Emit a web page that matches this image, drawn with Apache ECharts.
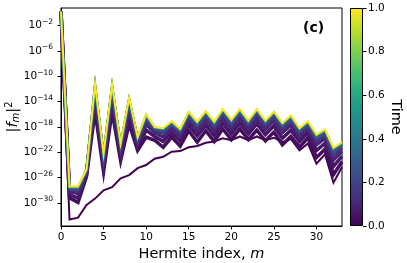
<!DOCTYPE html>
<html><head><meta charset="utf-8">
<script src="https://cdn.jsdelivr.net/npm/echarts@6/dist/echarts.min.js"></script>
<style>html,body{margin:0;padding:0;background:#fff}#c{width:407px;height:263px}</style>
</head><body><div id="c"></div>
<script>
// ---- data (log10 of |f_m|^2) ----
const hermiteIndex = [0,1,2,3,4,5,6,7,8,9,10,11,12,13,14,15,16,17,18,19,20,21,22,23,24,25,26,27,28,29,30,31,32,33];
const timeSnapshots = [0, 0.03, 0.06, 0.1, 0.15, 0.22, 0.35, 0.6, 1.0];
const logF2_t000 = [0.2,-32.6,-32.3,-30.3,-29.3,-28.0,-27.5,-26.1,-25.6,-24.5,-24.0,-23.0,-22.7,-21.9,-21.8,-21.2,-21.0,-20.5,-20.3,-19.8,-20.1,-19.5,-20.1,-19.5,-20.1,-19.7,-20.4,-19.9,-21.7,-20.6,-23.8,-22.3,-26.8,-24.3];
const logF2_t003 = [0.2,-29.2,-29.9,-25.8,-15.5,-25.1,-15.5,-23.3,-17.5,-21.7,-19.6,-20.1,-21.2,-19.6,-21.0,-18.6,-20.4,-18.6,-20.3,-18.3,-20.0,-18.3,-20.0,-18.5,-20.2,-18.8,-20.8,-19.5,-21.2,-19.7,-22.8,-21.5,-25.5,-23.5];
const logF2_t006 = [0.2,-28.7,-29.2,-25.5,-14.2,-24.2,-14.2,-22.5,-16.3,-21.1,-18.5,-19.5,-20.3,-18.9,-20.2,-17.7,-19.4,-17.7,-19.4,-17.4,-19.1,-17.4,-19.1,-17.5,-19.2,-17.8,-19.8,-18.5,-20.3,-18.9,-21.7,-20.6,-24.2,-22.6];
const logF2_t010 = [0.2,-28.2,-28.5,-25.2,-13.1,-23.5,-13.2,-21.8,-15.2,-20.5,-17.6,-18.9,-19.6,-18.2,-19.5,-17.0,-18.6,-16.9,-18.6,-16.6,-18.3,-16.6,-18.4,-16.7,-18.4,-17.0,-18.9,-17.7,-19.6,-18.3,-20.8,-19.8,-23.2,-21.8];
const logF2_t015 = [0.2,-27.9,-28.1,-25.0,-12.4,-23.0,-12.5,-21.4,-14.5,-20.2,-17.0,-18.6,-19.0,-17.8,-19.1,-16.4,-18.1,-16.4,-18.1,-16.1,-17.8,-16.1,-17.8,-16.1,-17.9,-16.5,-18.4,-17.1,-19.0,-17.8,-20.2,-19.3,-22.5,-21.3];
const logF2_t022 = [0.2,-27.7,-27.8,-24.9,-11.9,-22.7,-12.0,-21.0,-14.1,-19.9,-16.6,-18.3,-18.7,-17.5,-18.7,-16.1,-17.7,-16.0,-17.7,-15.7,-17.4,-15.7,-17.5,-15.7,-17.5,-16.1,-17.9,-16.7,-18.7,-17.5,-19.8,-18.9,-22.0,-20.9];
const logF2_t035 = [0.2,-27.5,-27.6,-24.8,-11.5,-22.4,-11.6,-20.8,-13.7,-19.7,-16.3,-18.1,-18.4,-17.3,-18.5,-15.8,-17.4,-15.7,-17.4,-15.4,-17.1,-15.4,-17.2,-15.4,-17.2,-15.8,-17.6,-16.4,-18.4,-17.3,-19.5,-18.6,-21.6,-20.6];
const logF2_t060 = [0.2,-27.5,-27.5,-24.7,-11.3,-22.3,-11.4,-20.7,-13.5,-19.7,-16.1,-18.1,-18.3,-17.2,-18.4,-15.7,-17.3,-15.6,-17.3,-15.3,-17.0,-15.3,-17.1,-15.3,-17.1,-15.7,-17.5,-16.3,-18.3,-17.2,-19.3,-18.5,-21.4,-20.5];
const logF2_t100 = [0.2,-27.4,-27.4,-24.7,-11.2,-22.2,-11.3,-20.6,-13.4,-19.6,-16.0,-18.0,-18.2,-17.1,-18.3,-15.6,-17.2,-15.5,-17.2,-15.2,-16.9,-15.2,-17.0,-15.2,-17.0,-15.6,-17.4,-16.2,-18.2,-17.1,-19.2,-18.4,-21.3,-20.4];
const xTicks = [0,5,10,15,20,25,30];
const yTickExponents = [-30,-26,-22,-18,-14,-10,-6,-2];
const colorbarTicks = [0,0.2,0.4,0.6,0.8,1.0];

const allLogF2 = [logF2_t000,logF2_t003,logF2_t006,logF2_t010,logF2_t015,logF2_t022,logF2_t035,logF2_t060,logF2_t100];

// ---- styling ----
const FONT = 'DejaVu Sans';
const viridis = ['#440154','#482475','#414487','#355f8d','#2a788e','#21918c','#22a884','#44bf70','#7ad151','#bddf26','#fde725'];
function hex2rgb(h){return [parseInt(h.slice(1,3),16),parseInt(h.slice(3,5),16),parseInt(h.slice(5,7),16)];}
function viridisAt(t){
  const p = Math.max(0,Math.min(1,t))*10; const i = Math.min(9,Math.floor(p)); const f = p-i;
  const a = hex2rgb(viridis[i]), b = hex2rgb(viridis[i+1]);
  const c = a.map((v,k)=>Math.round(v+(b[k]-v)*f));
  return 'rgb('+c.join(',')+')';
}
const lineWidths = [2, 3.5, 3.5, 3.5, 3, 3, 2.5, 2, 2];

const chart = echarts.init(document.getElementById('c'), null, {renderer:'canvas', width:407, height:263});

const lineSeries = timeSnapshots.map((t,i)=>({
  type:'line', xAxisIndex:0, yAxisIndex:0,
  data: hermiteIndex.map((m,j)=>[m, allLogF2[i][j]]),
  symbol:'none', showSymbol:false, silent:true, animation:false,
  lineStyle:{color:viridisAt(t), width:lineWidths[i], join:'miter'},
  itemStyle:{color:viridisAt(t)}
}));

const supFmt = v => '{b|10}{s|' + (v<0?'\u2212':'') + Math.abs(v) + '}';

chart.setOption({
  animation:false,
  backgroundColor:'#fff',
  grid:[
    {left:61, top:8, width:281, height:218, show:true, borderColor:'#000', borderWidth:1, backgroundColor:'transparent', outerBoundsMode:'none', containLabel:false},
    {left:350, top:8, width:13, height:218, show:false, outerBoundsMode:'none', containLabel:false}
  ],
  xAxis:[
    {type:'value', gridIndex:0, min:0, max:33,
     axisLine:{show:true, onZero:false, lineStyle:{color:'#000', width:1}},
     axisTick:{show:true, customValues:xTicks, length:3.5, lineStyle:{color:'#000'}},
     axisLabel:{customValues:xTicks, fontSize:10.5, fontFamily:FONT, color:'#000', margin:6},
     splitLine:{show:false},
     name:'{n|Hermite index, }{i|m}', nameLocation:'middle', nameGap:21, nameMoveOverlap:false,
     nameTextStyle:{rich:{n:{fontSize:14.5, fontFamily:FONT, color:'#000'}, i:{fontSize:14.5, fontFamily:FONT, fontStyle:'italic', color:'#000'}}}
    },
    {type:'category', gridIndex:1, data:['c'], show:false}
  ],
  yAxis:[
    {type:'value', gridIndex:0, min:-33.62, max:0.76,
     axisLine:{show:true, onZero:false, lineStyle:{color:'#000', width:1}},
     axisTick:{show:true, customValues:yTickExponents, length:3.5, lineStyle:{color:'#000'}},
     axisLabel:{customValues:yTickExponents, formatter:supFmt, margin:8,
       rich:{b:{fontSize:10.5, fontFamily:FONT, color:'#000'}, s:{fontSize:7.5, fontFamily:FONT, color:'#000', padding:[0,0,7,0]}}},
     splitLine:{show:false},
     name:'{n||}{f|f}{sub|m}{n||}{sup|2}', nameLocation:'middle', nameRotate:90, nameGap:39, nameMoveOverlap:false,
     nameTextStyle:{rich:{
       n:{fontSize:14.5, fontFamily:FONT, color:'#000'},
       f:{fontSize:14.5, fontFamily:FONT, fontStyle:'italic', color:'#000'},
       sub:{fontSize:10, fontFamily:FONT, fontStyle:'italic', color:'#000', padding:[7,0,0,0]},
       sup:{fontSize:10, fontFamily:FONT, color:'#000', padding:[0,0,8,0]}
     }}
    },
    {type:'value', gridIndex:1, position:'right', min:0, max:1, interval:0.2,
     axisLine:{show:false},
     axisTick:{show:true, length:3.5, lineStyle:{color:'#000'}},
     axisLabel:{fontSize:10.5, fontFamily:FONT, color:'#000', margin:5, formatter:v=>v.toFixed(1)},
     splitLine:{show:false},
     name:'Time', nameLocation:'middle', nameRotate:-90, nameGap:25, nameMoveOverlap:false,
     nameTextStyle:{fontSize:14.5, fontFamily:FONT, color:'#000'}
    }
  ],
  series: lineSeries.concat([{
    type:'bar', xAxisIndex:1, yAxisIndex:1, data:[1], barWidth:'100%', silent:true,
    itemStyle:{borderColor:'#000', borderWidth:1,
      color:{type:'linear', x:0, y:0, x2:0, y2:1, colorStops: viridis.slice().reverse().map((c,i)=>({offset:i/10, color:c}))}}
  }]),
  graphic:[{type:'text', left:303, top:21, style:{text:'(c)', fontSize:14, fontWeight:'bold', fontFamily:FONT, fill:'#000'}}]
});
</script>
</body></html>
